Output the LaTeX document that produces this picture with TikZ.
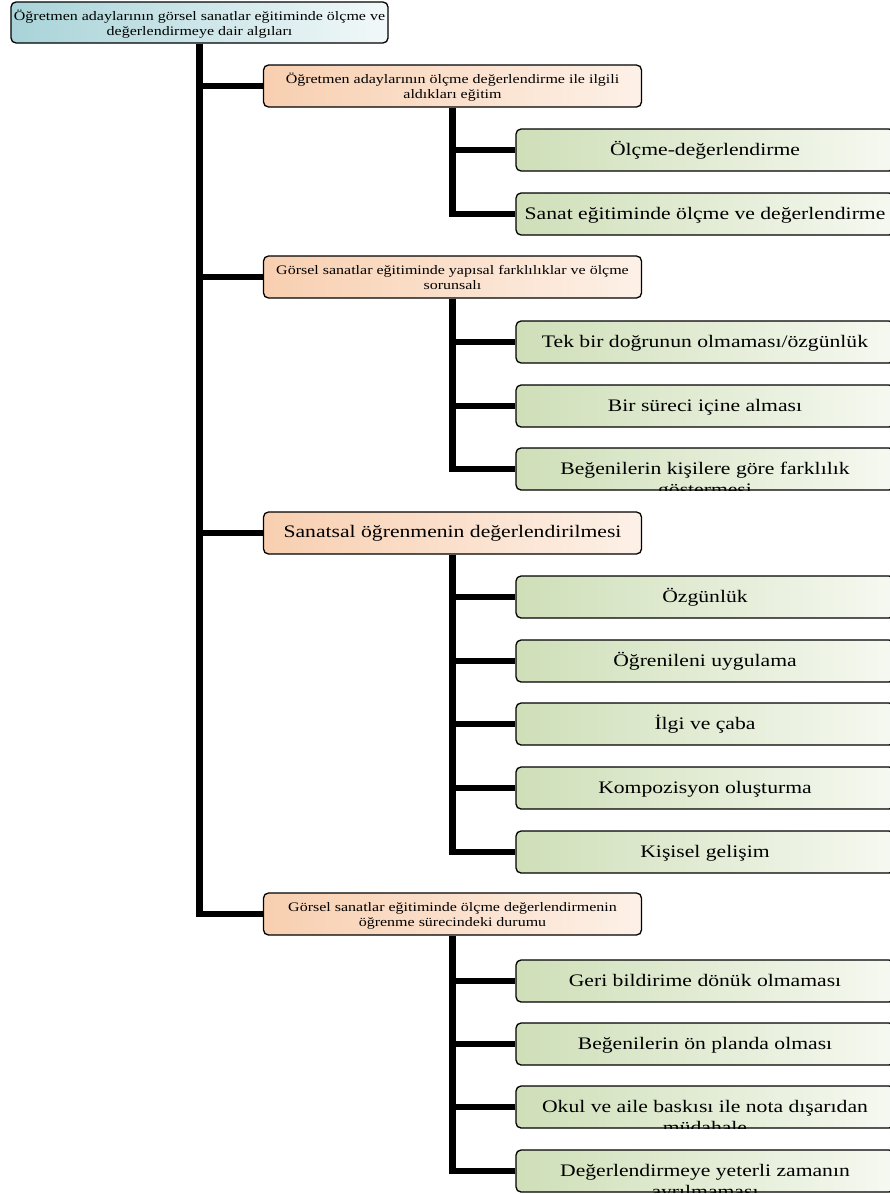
\documentclass[tikz,border=0pt]{standalone}
\usepackage{fontspec}
\setmainfont[FakeStretch=1.23]{Liberation Serif}
\usetikzlibrary{positioning}
\definecolor{cteal}{HTML}{A8D3D8}
\definecolor{cpeach}{HTML}{F8CFB0}
\definecolor{csage}{HTML}{CFDFB8}
\newcommand{\txtsmall}{\fontsize{13}{15.3}\selectfont}
\newcommand{\txtbig}{\fontsize{17.6}{21}\selectfont}
\newcommand{\boxlabel}[3]{\node[anchor=base, inner sep=0pt] at ([yshift=#2]path picture bounding box.center) {\parbox[t]{372pt}{\centering#1 #3}};}
\tikzset{
  every picture/.style={x=1pt, y=-1pt},
  card/.style={draw=black, line width=1.3pt, rounded corners=5pt, minimum width=378pt, minimum height=42pt, inner sep=0pt, right color=white},
  rootbox/.style={card, left color=cteal, right color=cteal!15, path picture={\boxlabel{\txtsmall}{2.5pt}{#1}}},
  topic/.style={card, left color=cpeach, right color=cpeach!30, path picture={\boxlabel{\txtsmall}{2.5pt}{#1}}},
  bigtopic/.style={card, left color=cpeach, right color=cpeach!30, path picture={\boxlabel{\txtbig}{-4pt}{#1}}},
  leaf/.style={card, left color=csage, right color=csage!20, path picture={\boxlabel{\txtbig}{-5pt}{#1}}},
  link/.style={draw=black, line width=6.5pt},
}
\begin{document}
\begin{tikzpicture}
  \useasboundingbox (0,0) rectangle (890,1194);
  % root
  \node[rootbox={Öğretmen adaylarının görsel sanatlar eğitiminde ölçme ve\\değerlendirmeye dair algıları}, minimum width=377pt, minimum height=41pt] (root) at (199.5,22.5) {};
  % level 1
  \node[topic={Öğretmen adaylarının ölçme değerlendirme ile ilgili\\aldıkları eğitim}] (l1) at (452.5,86) {};
  \node[topic={Görsel sanatlar eğitiminde yapısal farklılıklar ve ölçme\\sorunsalı}] (l2) at (452.5,277) {};
  \node[bigtopic={Sanatsal öğrenmenin değerlendirilmesi}] (l3) at (452.5,533) {};
  \node[topic={Görsel sanatlar eğitiminde ölçme değerlendirmenin\\öğrenme sürecindeki durumu}] (l4) at (452.5,914) {};
  % leaves
  \node[leaf={Ölçme-değerlendirme}] (a1) at (705,150) {};
  \node[leaf={Sanat eğitiminde ölçme ve değerlendirme}] (a2) at (705,214) {};
  \node[leaf={Tek bir doğrunun olmaması/özgünlük}] (b1) at (705,342) {};
  \node[leaf={Bir süreci içine alması}] (b2) at (705,406) {};
  \node[leaf={Beğenilerin kişilere göre farklılık\\göstermesi}] (b3) at (705,469) {};
  \node[leaf={Özgünlük}] (c1) at (705,597) {};
  \node[leaf={Öğrenileni uygulama}] (c2) at (705,661) {};
  \node[leaf={İlgi ve çaba}] (c3) at (705,724) {};
  \node[leaf={Kompozisyon oluşturma}] (c4) at (705,788) {};
  \node[leaf={Kişisel gelişim}] (c5) at (705,852) {};
  \node[leaf={Geri bildirime dönük olmaması}] (d1) at (705,981) {};
  \node[leaf={Beğenilerin ön planda olması}] (d2) at (705,1044) {};
  \node[leaf={Okul ve aile baskısı ile nota dışarıdan\\müdahale}] (d3) at (705,1107) {};
  \node[leaf={Değerlendirmeye yeterli zamanın\\ayrılmaması}] (d4) at (705,1171) {};
  % connectors
  \draw[link] (root.south) |- (l4.west);
  \foreach \n in {l1,l2,l3} \draw[link] (root.south |- \n.west) -- (\n.west);
  \draw[link] (l1.south) |- (a2.west);
  \draw[link] (l1.south |- a1.west) -- (a1.west);
  \draw[link] (l2.south) |- (b3.west);
  \foreach \n in {b1,b2} \draw[link] (l2.south |- \n.west) -- (\n.west);
  \draw[link] (l3.south) |- (c5.west);
  \foreach \n in {c1,c2,c3,c4} \draw[link] (l3.south |- \n.west) -- (\n.west);
  \draw[link] (l4.south) |- (d4.west);
  \foreach \n in {d1,d2,d3} \draw[link] (l4.south |- \n.west) -- (\n.west);
\end{tikzpicture}
\end{document}
